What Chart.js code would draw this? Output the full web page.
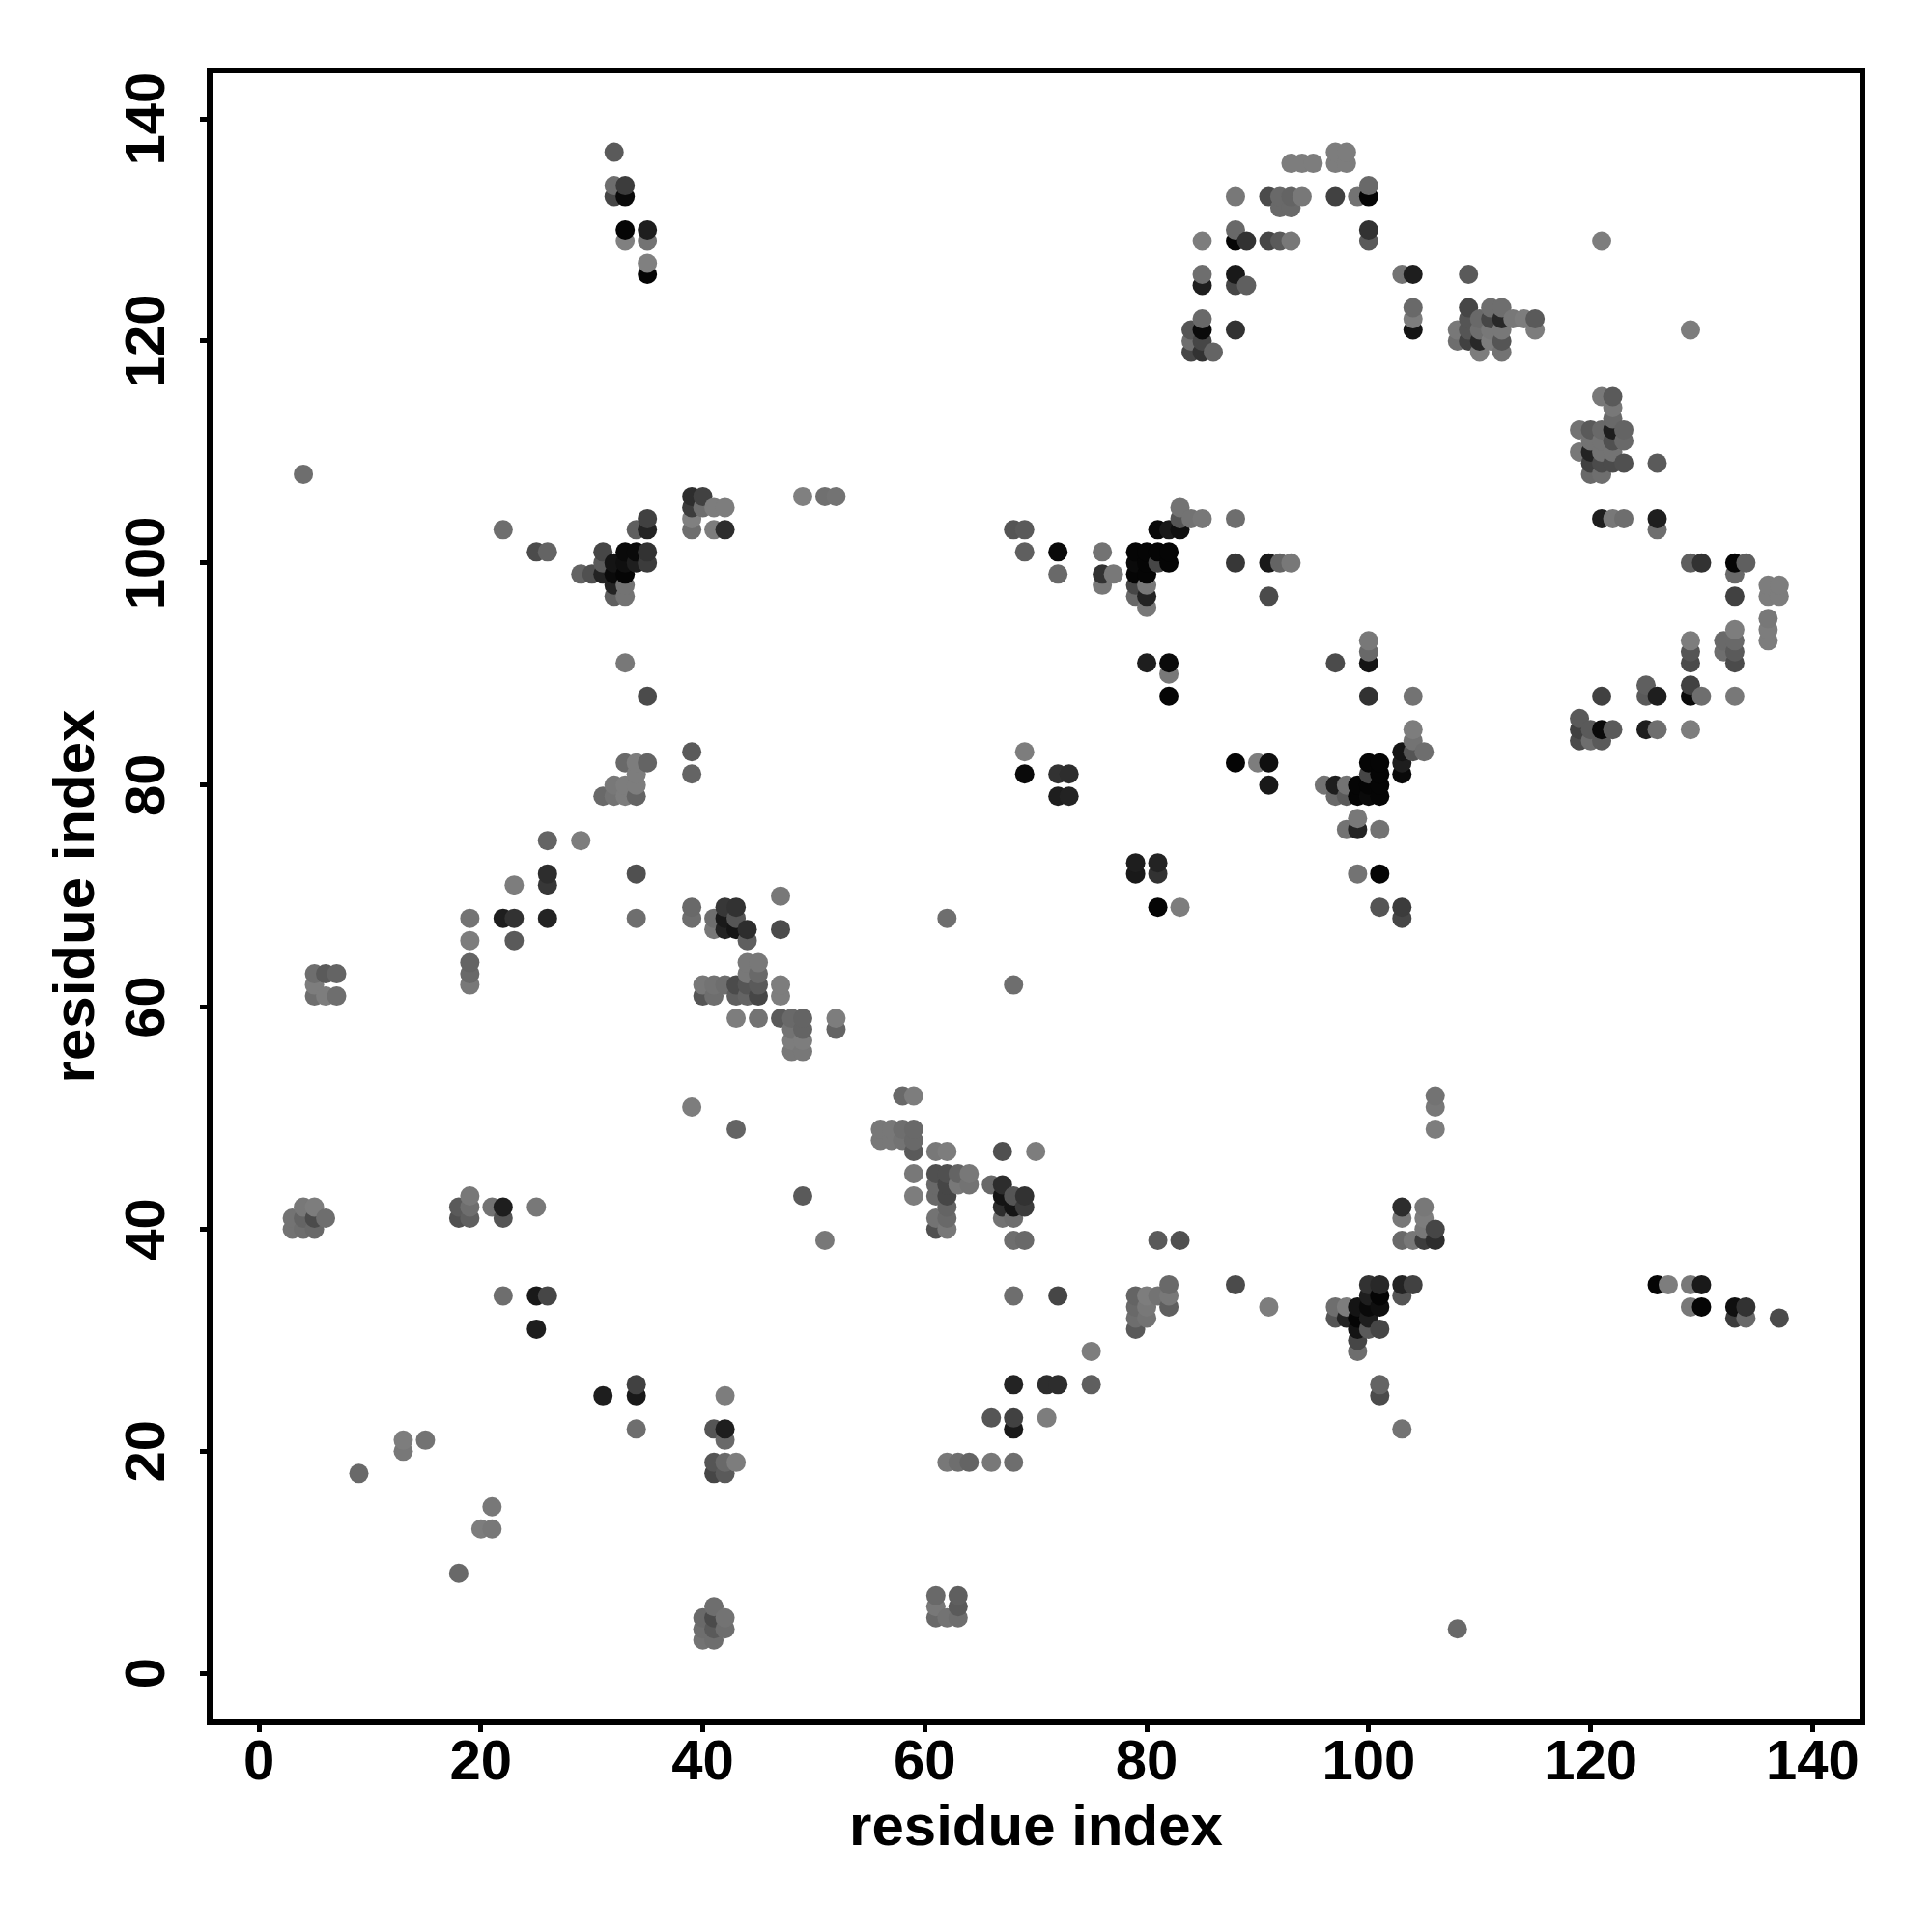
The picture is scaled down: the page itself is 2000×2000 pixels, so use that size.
<!DOCTYPE html>
<html>
<head>
<meta charset="utf-8">
<title>residue contact map</title>
<script src="https://cdn.jsdelivr.net/npm/chart.js@4"></script>
<style>
  html, body { margin: 0; padding: 0; background: #fff; }
  canvas { display: block; }
</style>
</head>
<body>
<canvas id="contact-map" width="2000" height="2000"></canvas>
<script>
// residue index on the x axis, one entry per column of points
const columns = [3,4,5,6,7,9,13,15,18,19,20,21,22,23,25,26,29,30,31,32,33,34,35,39,40,41,42,43,44,45,47,48,49,51,52,56,57,58,59,61,62,63,64,66,67,68,69,70,71,72,73,75,76,77,79,80,81,82,83,84,85,86,88,89,90,91,92,93,94,95,96,97,98,99,100,101,103,104,105,106,108,109,110,111,112,113,114,115,119,120,121,122,123,125,126,127,129,130,132,133,134,136,137];

// residue index on the y axis for each column
const rowsByColumn = [
  [40,41],[40,41,42,108],[40,41,42,61,62,63],[41,61,63],[61,63],[18],[20,21],[21],[9,41,42],
  [41,42,43,62,63,64,66,68],[13],[13,15,42],[34,41,42,68,103],[66,68,71],[31,34,42,101],
  [34,68,71,72,75,101],[75,99],[99],[25,79,99,100,101],
  [79,80,97,98,99,100,133,134,137],[79,80,82,91,97,98,99,100,101,129,130,133,134],
  [22,25,26,68,72,79,80,81,82,100,101,103],[82,88,100,101,103,104,126,127,129,130],
  [51,68,69,81,83,103,104,105,106],[3,4,5,61,62,105,106],
  [3,4,5,6,18,19,22,61,62,67,68,103,105],[4,5,18,19,21,22,25,62,67,68,69,103,105],
  [19,49,59,61,62,67,68,69],[61,62,63,64,66,67],[59,61,62,63,64],[59,61,62,67,70],
  [56,57,58,59],[43,56,57,58,59,106],[39,106],[58,59,106],[48,49],[48,49],[48,49,52],
  [43,45,47,48,49,52],[5,6,7,40,41,43,44,45,47],[5,19,40,41,42,43,44,45,47,68],
  [5,6,7,19,44,45],[19,44,45],[19,23,44],[41,42,43,44,47],
  [19,22,23,26,34,39,41,42,43,62,103],[39,42,43,81,83,101,103],[47],[23,26],
  [26,34,79,81,99,101],[79,81],[26,29],[98,99,101],[99],
  [31,32,33,34,72,73,97,98,99,100,101],[32,33,34,91,96,97,98,99,100,101],
  [34,39,69,72,73,100,101,103],[33,34,35,88,90,91,100,101,103],[39,69,103,104,105],
  [104,119,120,121],[104,119,120,121,122,125,126,129],[119],
  [35,82,100,104,121,125,126,129,130,133],[125,129],[82],[33,80,82,97,100,129,133],
  [100,129,132,133],[100,129,132,133,136],[133,136],[136],[80],
  [32,33,79,80,91,133,136,137],[32,33,76,79,80,136,137],
  [29,30,31,32,33,72,76,77,79,80,133],
  [31,32,33,34,35,79,80,81,82,88,91,92,93,129,130,133,134],
  [25,26,31,33,34,35,69,72,76,79,80,81,82],
  [22,34,35,39,41,42,68,69,81,82,83,126],[35,39,83,84,85,88,121,122,123,126],
  [39,40,41,42,83],[39,40,49,51,52],[4,120,121],[120,121,122,123,126],[119,120,121,122],
  [120,121,122,123],[119,120,121,122,123],[122],[122],[121,122],[84,85,86,110,112],
  [84,85,108,109,110,111,112],[84,85,88,104,108,109,110,111,112,115,129],
  [85,104,109,110,111,112,113,114,115],[104,109,111,112],[85,88,89],
  [35,85,88,103,104,109],[35],[33,35,85,88,89,91,92,93,100,121],[33,35,88,100],[92,93],
  [32,33,88,91,92,93,94,97,99,100],[32,33,100],[93,94,95,97,98],[32,97,98]
];

// grey level of each point, same shape as rowsByColumn
const greysByColumn = [
  [115,115],[110,100,120,110],[105,75,125,110,125,110],[110,125,90],[110,100],[105],[120,125],[115],[105,80,90],
  [95,110,120,120,105,100,125,115],[125],[120,120,115],[110,85,30,30,110],[90,50,125],[30,25,120,75],
  [70,35,55,45,100,100],[125,100],[80],[30,105,35,90,70],
  [115,120,95,35,10,20,70,110,90],[125,125,105,120,115,115,5,15,10,128,5,10,60],
  [110,25,65,110,80,100,125,125,125,30,10,95],[100,75,60,50,35,65,5,128,115,30],
  [125,110,105,100,90,110,128,60,45],[115,110,105,85,120,110,65],
  [110,90,75,110,70,85,85,110,115,120,110,125,125],[110,115,90,105,105,30,125,110,35,25,55,45,125],
  [125,100,125,95,75,20,85,50],[100,85,120,120,95,45],[115,70,90,105,120],[90,125,125,75,120],
  [120,125,115,105],[90,120,125,100,100,128],[120,112],[100,125,115],[120,120],[120,120],[115,110,105],
  [125,120,90,105,105,125],[105,120,105,80,115,105,105,80,120],[115,120,120,105,100,70,70,80,125,110],
  [110,90,95,110,120,100],[100,115,120],[120,85,105],[115,45,20,45,80],
  [110,25,65,35,110,110,110,20,85,110,85],[105,60,50,10,125,95,90],[125],[125,45],
  [45,70,30,50,105,10],[35,45],[95,125],[120,50,115],[120],
  [90,110,105,100,25,30,105,70,5,10,5],[115,120,125,30,120,35,120,5,5,5],
  [115,90,5,50,35,70,5,10],[95,120,105,5,120,10,5,5,25],[80,125,15,85,115],
  [115,70,110,85],[120,50,70,10,105,30,110,125],[100],
  [75,5,55,110,50,70,25,5,105,120],[95,50],[125],[125,25,15,75,25,70,75],
  [100,90,105,105],[120,120,105,100,125],[120,125],[125],[115],
  [85,110,105,30,75,65,125,125],[35,125,115,90,115,125,125],
  [110,70,20,5,20,115,35,120,5,5,115],
  [90,30,10,30,50,10,5,70,5,50,20,105,120,90,50,5,105],
  [75,100,70,15,5,40,85,5,115,5,5,5,5],
  [115,85,35,105,120,45,70,60,10,30,20,115],[65,120,85,115,125,115,20,125,105,30],
  [60,120,125,120,110],[45,70,125,120,115],[105,110,120],[65,85,85,70,90],[125,40,110,105],
  [125,120,70,110],[115,85,120,40,110],[120],[125],[125,90],[75,65,90,120,115],
  [110,90,105,65,35,115,90],[90,10,65,30,110,75,115,115,105,120,125],
  [90,120,75,115,80,30,105,120,90],[110,80,105,100],[30,90,95],
  [5,110,30,110,30,90],[125],[120,120,125,10,65,75,85,125,95,125],[5,25,110,50],[110,105],
  [60,15,120,75,90,105,125,65,105,5],[105,50,95],[125,125,120,125,125],[75,125,125]
];

const tickFont = { family: '"Liberation Sans", Arial, sans-serif', size: 58, weight: 'bold' };
const titleFont = { family: '"Liberation Sans", Arial, sans-serif', size: 60, weight: 'bold' };
const plotLeft = 217;
const plotBottom = 1783;
const layoutPadding = { left: 44, top: 73, right: 72, bottom: 71 };

const points = [];
const colors = [];
columns.forEach((x, c) => {
  rowsByColumn[c].forEach((y, r) => {
    const g = greysByColumn[c][r];
    points.push({ x: x, y: y });
    colors.push(`rgb(${g},${g},${g})`);
  });
});

// the R style box round the plot
const plotBox = {
  id: 'plotBox',
  afterDraw(chart) {
    const { ctx, chartArea: a } = chart;
    ctx.save();
    ctx.strokeStyle = '#000';
    ctx.lineWidth = 6;
    ctx.lineJoin = 'miter';
    ctx.strokeRect(a.left, a.top, a.right - a.left, a.bottom - a.top);
    ctx.restore();
  },
};

const whiteBackground = {
  id: 'whiteBackground',
  beforeDraw(chart) {
    chart.ctx.save();
    chart.ctx.fillStyle = '#fff';
    chart.ctx.fillRect(0, 0, chart.width, chart.height);
    chart.ctx.restore();
  },
};

const tickMarks = {
  display: true,
  drawOnChartArea: false,
  drawTicks: true,
  tickLength: 10,
  tickWidth: 5,
  tickColor: '#000',
};

new Chart(document.getElementById('contact-map').getContext('2d'), {
  type: 'scatter',
  data: {
    datasets: [{
      data: points,
      pointRadius: 10,
      pointHoverRadius: 10,
      pointBorderWidth: 0,
      pointBackgroundColor: colors,
    }],
  },
  options: {
    responsive: false,
    animation: false,
    events: [],
    layout: { padding: layoutPadding },
    plugins: {
      legend: { display: false },
      title: { display: false },
      tooltip: { enabled: false },
    },
    scales: {
      x: {
        type: 'linear',
        min: -4.45,
        max: 144.5,
        grid: tickMarks,
        border: { display: false },
        ticks: {
          stepSize: 20,
          color: '#000',
          font: tickFont,
          padding: -2,
          maxRotation: 0,
          autoSkip: false,
          includeBounds: false,
        },
        title: {
          display: true,
          text: 'residue index',
          color: '#000',
          font: titleFont,
          padding: 0,
        },
        afterFit(scale) {
          scale.height = 2000 - plotBottom - layoutPadding.bottom;
        },
      },
      y: {
        type: 'linear',
        min: -4.42,
        max: 144.36,
        grid: tickMarks,
        border: { display: false },
        ticks: {
          stepSize: 20,
          color: '#000',
          font: tickFont,
          padding: 5,
          minRotation: 90,
          maxRotation: 90,
          crossAlign: 'center',
          autoSkip: false,
          includeBounds: false,
        },
        title: {
          display: true,
          text: 'residue index',
          color: '#000',
          font: titleFont,
          padding: 0,
        },
        afterFit(scale) {
          scale.width = plotLeft - layoutPadding.left;
        },
      },
    },
  },
  plugins: [whiteBackground, plotBox],
});
</script>
</body>
</html>
